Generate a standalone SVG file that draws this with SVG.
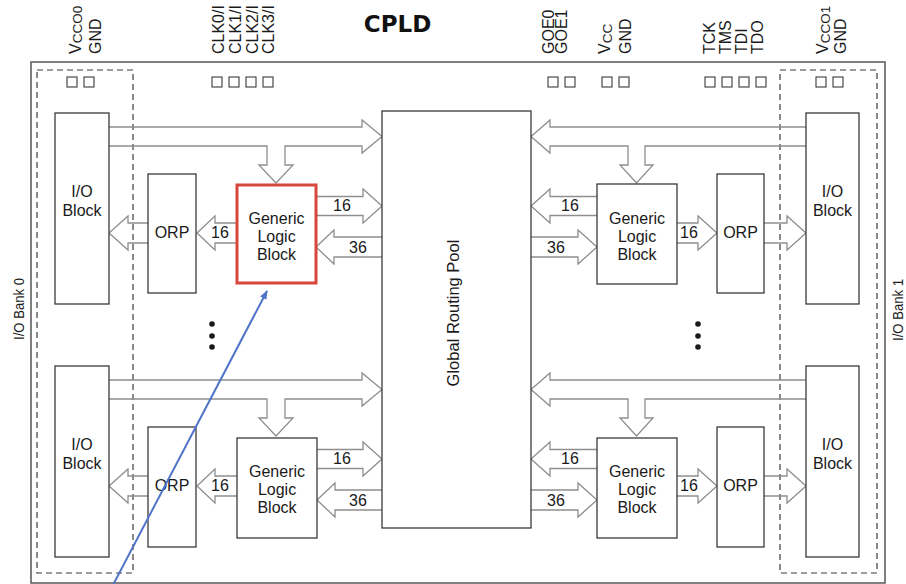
<svg xmlns="http://www.w3.org/2000/svg" width="906" height="584" viewBox="0 0 906 584">
  <defs>
    <style>
      .box { fill: #ffffff; stroke: #3a3a3a; stroke-width: 1.3; }
      .hl { fill: #ffffff; stroke: #d8473d; stroke-width: 3; }
      .bus { fill: none; stroke: #8e8e8e; stroke-width: 1.3; stroke-linejoin: miter; }
      .dash { fill: none; stroke: #3a3a3a; stroke-width: 1.2; stroke-dasharray: 6 4; }
      .frame { fill: none; stroke: #555555; stroke-width: 1.5; }
      .pad { fill: #ffffff; stroke: #3a3a3a; stroke-width: 1.1; }
      .t { font-family: "Liberation Sans", Arial, sans-serif; font-size: 16px; fill: #1a1a1a; text-anchor: middle; }
      .bank { font-family: "Liberation Sans", Arial, sans-serif; font-size: 15px; fill: #1a1a1a; }
      .pin { font-family: "Liberation Sans", Arial, sans-serif; font-size: 16px; fill: #1a1a1a; }
      .sub { font-size: 13.5px; }
      .title { font-family: "DejaVu Sans", Verdana, sans-serif; font-weight: bold; font-size: 23px; fill: #111111; text-anchor: middle; }
      .dot { fill: #1a1a1a; }
    </style>
    <marker id="blueHead" viewBox="0 0 10 10" refX="9" refY="5" markerWidth="9" markerHeight="9" markerUnits="userSpaceOnUse" orient="auto">
      <path d="M0,1 L10,5 L0,9 Z" fill="#4f74c8"/>
    </marker>
  </defs>

  <rect width="906" height="584" fill="#ffffff"/>

  <!-- title -->
  <text class="title" x="397.5" y="32">CPLD</text>

  <!-- device outline and the two I/O bank regions -->
  <g id="frame">
    <rect class="frame" x="31" y="62" width="854" height="521"/>
    <rect class="dash" x="37" y="70" width="96" height="503"/>
    <rect class="dash" x="780" y="70" width="97" height="503"/>
    <text class="bank" transform="translate(24,340) rotate(-90)" textLength="62" lengthAdjust="spacingAndGlyphs">I/O Bank 0</text>
    <text class="bank" transform="translate(903,341) rotate(-90)" textLength="62" lengthAdjust="spacingAndGlyphs">I/O Bank 1</text>
  </g>

  <!-- pin names and pads -->
  <g id="pins">
    <text class="pin" transform="translate(80.5,54) rotate(-90)">V<tspan class="sub" dy="1.5">CCO0</tspan></text>
    <text class="pin" transform="translate(101,54) rotate(-90)">GND</text>
    <text class="pin" transform="translate(224,54) rotate(-90)">CLK0/I</text>
    <text class="pin" transform="translate(241,54) rotate(-90)">CLK1/I</text>
    <text class="pin" transform="translate(257.5,54) rotate(-90)">CLK2/I</text>
    <text class="pin" transform="translate(274,54) rotate(-90)">CLK3/I</text>
    <text class="pin" transform="translate(554,54) rotate(-90)">GOE0</text>
    <text class="pin" transform="translate(567,54) rotate(-90)">GOE1</text>
    <text class="pin" transform="translate(610,54) rotate(-90)">V<tspan class="sub" dy="1.5">CC</tspan></text>
    <text class="pin" transform="translate(631,54) rotate(-90)">GND</text>
    <text class="pin" transform="translate(715,54) rotate(-90)">TCK</text>
    <text class="pin" transform="translate(731,54) rotate(-90)">TMS</text>
    <text class="pin" transform="translate(747,54) rotate(-90)">TDI</text>
    <text class="pin" transform="translate(763,54) rotate(-90)">TDO</text>
    <text class="pin" transform="translate(828,54) rotate(-90)">V<tspan class="sub" dy="1.5">CCO1</tspan></text>
    <text class="pin" transform="translate(846,54) rotate(-90)">GND</text>

    <rect class="pad" x="67" y="77" width="10" height="10"/>
    <rect class="pad" x="84" y="77" width="10" height="10"/>
    <rect class="pad" x="212" y="77" width="10" height="10"/>
    <rect class="pad" x="229" y="77" width="10" height="10"/>
    <rect class="pad" x="246" y="77" width="10" height="10"/>
    <rect class="pad" x="263" y="77" width="10" height="10"/>
    <rect class="pad" x="548" y="77" width="10" height="10"/>
    <rect class="pad" x="565" y="77" width="10" height="10"/>
    <rect class="pad" x="602" y="77" width="10" height="10"/>
    <rect class="pad" x="619" y="77" width="10" height="10"/>
    <rect class="pad" x="705" y="77" width="10" height="10"/>
    <rect class="pad" x="722" y="77" width="10" height="10"/>
    <rect class="pad" x="739" y="77" width="10" height="10"/>
    <rect class="pad" x="756" y="77" width="10" height="10"/>
    <rect class="pad" x="816" y="77" width="10" height="10"/>
    <rect class="pad" x="833" y="77" width="10" height="10"/>
  </g>

  <!-- bus connectors -->
  <g id="connectors">
    <!-- upper left -->
    <path class="bus" d="M109,127 H362 V120 L382,136.5 L362,153 V146 H285 V165 H293 L276,183 L259,165 H267 V146 H109"/>
    <path class="bus" d="M316,196.5 H363 V189 L382,206 L363,223 V215.5 H316"/>
    <path class="bus" d="M382,237 H334 V230 L316,247 L334,264 V257 H382"/>
    <path class="bus" d="M237,223 H215 V216 L197,233 L215,250 V243 H237"/>
    <path class="bus" d="M148,223 H128 V216 L109,233 L128,250 V243 H148"/>
    <!-- upper right -->
    <path class="bus" d="M806,127 H550 V120 L531,136.5 L550,153 V146 H628 V165 H620 L636.5,183 L653,165 H645 V146 H806"/>
    <path class="bus" d="M597,196.5 H550 V189 L531,206 L550,223 V215.5 H597"/>
    <path class="bus" d="M531,237 H578 V230 L597,247 L578,264 V257 H531"/>
    <path class="bus" d="M677,223 H698 V216 L717,233 L698,250 V243 H677"/>
    <path class="bus" d="M764,223 H787 V216 L806,233 L787,250 V243 H764"/>
    <!-- lower left -->
    <path class="bus" d="M109,380 H362 V373 L382,389.5 L362,406 V399 H285 V418 H293 L276,436 L259,418 H267 V399 H109"/>
    <path class="bus" d="M317,449.5 H363 V442 L382,459 L363,476 V468.5 H317"/>
    <path class="bus" d="M382,490 H335 V483 L317,500 L335,517 V510 H382"/>
    <path class="bus" d="M237,476 H215 V469 L197,486 L215,503 V496 H237"/>
    <path class="bus" d="M148,476 H128 V469 L109,486 L128,503 V496 H148"/>
    <!-- lower right -->
    <path class="bus" d="M806,380 H550 V373 L531,389.5 L550,406 V399 H628 V418 H620 L636.5,436 L653,418 H645 V399 H806"/>
    <path class="bus" d="M597,449.5 H550 V442 L531,459 L550,476 V468.5 H597"/>
    <path class="bus" d="M531,490 H578 V483 L597,500 L578,517 V510 H531"/>
    <path class="bus" d="M677,476 H698 V469 L717,486 L698,503 V496 H677"/>
    <path class="bus" d="M764,476 H787 V469 L806,486 L787,503 V496 H764"/>

    <!-- bus widths -->
    <text class="t" x="342" y="211">16</text>
    <text class="t" x="358" y="253">36</text>
    <text class="t" x="220" y="238">16</text>
    <text class="t" x="570" y="211">16</text>
    <text class="t" x="556" y="253">36</text>
    <text class="t" x="689" y="238">16</text>
    <text class="t" x="342" y="464">16</text>
    <text class="t" x="358" y="506">36</text>
    <text class="t" x="220" y="491">16</text>
    <text class="t" x="570" y="464">16</text>
    <text class="t" x="556" y="506">36</text>
    <text class="t" x="689" y="491">16</text>
  </g>

  <!-- global routing pool -->
  <g id="grp">
    <rect class="box" x="382" y="111" width="149" height="417"/>
    <text class="t" style="font-size:16.5px" transform="translate(459,313) rotate(-90)">Global Routing Pool</text>
  </g>

  <!-- bank 0, upper -->
  <g id="io0a">
    <rect class="box" x="55" y="113" width="54" height="191"/>
    <text class="t" x="82" y="197">I/O</text>
    <text class="t" x="82" y="216">Block</text>
  </g>
  <g id="orp0a">
    <rect class="box" x="148" y="174" width="48" height="119"/>
    <text class="t" x="172" y="238">ORP</text>
  </g>
  <g id="glb0a">
    <rect class="hl" x="237" y="185" width="79" height="98"/>
    <text class="t" x="276.5" y="223.5">Generic</text>
    <text class="t" x="276.5" y="241.5">Logic</text>
    <text class="t" x="276.5" y="259.5">Block</text>
  </g>

  <!-- bank 1, upper -->
  <g id="io1a">
    <rect class="box" x="806" y="113" width="53" height="191"/>
    <text class="t" x="832.5" y="197">I/O</text>
    <text class="t" x="832.5" y="216">Block</text>
  </g>
  <g id="orp1a">
    <rect class="box" x="717" y="174" width="47" height="119"/>
    <text class="t" x="740.5" y="238">ORP</text>
  </g>
  <g id="glb1a">
    <rect class="box" x="597" y="184" width="80" height="100"/>
    <text class="t" x="637" y="223.5">Generic</text>
    <text class="t" x="637" y="241.5">Logic</text>
    <text class="t" x="637" y="259.5">Block</text>
  </g>

  <!-- bank 0, lower -->
  <g id="io0b">
    <rect class="box" x="55" y="366" width="54" height="191"/>
    <text class="t" x="82" y="450">I/O</text>
    <text class="t" x="82" y="469">Block</text>
  </g>
  <g id="orp0b">
    <rect class="box" x="148" y="427" width="48" height="120"/>
    <text class="t" x="172" y="491">ORP</text>
  </g>
  <g id="glb0b">
    <rect class="box" x="237" y="438" width="80" height="100"/>
    <text class="t" x="277" y="476.5">Generic</text>
    <text class="t" x="277" y="494.5">Logic</text>
    <text class="t" x="277" y="512.5">Block</text>
  </g>

  <!-- bank 1, lower -->
  <g id="io1b">
    <rect class="box" x="806" y="366" width="53" height="191"/>
    <text class="t" x="832.5" y="450">I/O</text>
    <text class="t" x="832.5" y="469">Block</text>
  </g>
  <g id="orp1b">
    <rect class="box" x="717" y="427" width="47" height="120"/>
    <text class="t" x="740.5" y="491">ORP</text>
  </g>
  <g id="glb1b">
    <rect class="box" x="597" y="438" width="80" height="100"/>
    <text class="t" x="637" y="476.5">Generic</text>
    <text class="t" x="637" y="494.5">Logic</text>
    <text class="t" x="637" y="512.5">Block</text>
  </g>

  <!-- repetition marks -->
  <g id="ellipsis">
    <circle class="dot" cx="212" cy="324" r="2.8"/>
    <circle class="dot" cx="212" cy="336" r="2.8"/>
    <circle class="dot" cx="212" cy="347" r="2.8"/>
    <circle class="dot" cx="698" cy="324" r="2.8"/>
    <circle class="dot" cx="698" cy="336" r="2.8"/>
    <circle class="dot" cx="698" cy="347" r="2.8"/>
  </g>

  <!-- pointer to the highlighted logic block -->
  <g id="pointer">
    <line x1="113" y1="585" x2="267" y2="291" stroke="#4f74c8" stroke-width="2" marker-end="url(#blueHead)"/>
  </g>
</svg>
